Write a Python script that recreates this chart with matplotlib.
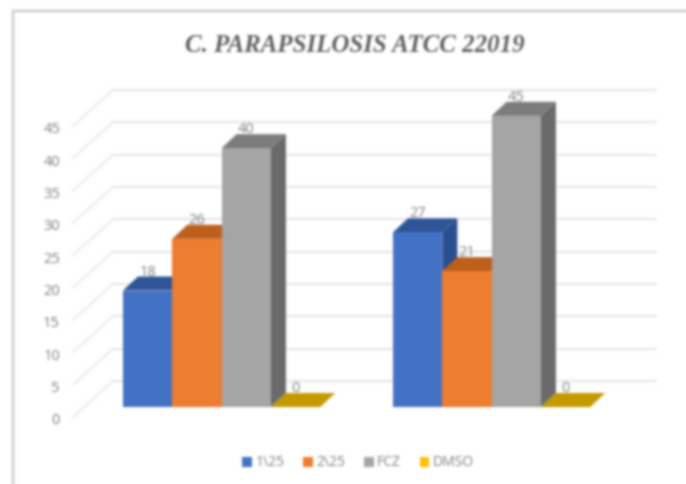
import numpy as np
import matplotlib
matplotlib.use("Agg")
import matplotlib.pyplot as plt
from matplotlib.patches import Polygon, Rectangle

# Minimum inhibitory results per isolate group
groups = ["A", "B"]
series_names = ["1\\25", "2\\25", "FCZ", "DMSO"]
series_values = [
    [18, 27],
    [26, 21],
    [40, 45],
    [0, 0],
]
tick_values = [0, 5, 10, 15, 20, 25, 30, 35, 40, 45]
title_text = "C. PARAPSILOSIS ATCC 22019"

front_colors = ["#4472C4", "#ED7D31", "#A5A5A5", "#FFC000"]
top_colors = ["#2F5597", "#BE5F1E", "#7C7C7C", "#C49A00"]
side_colors = ["#2A4F8F", "#AE5A1F", "#6A6A6A", "#A88400"]

W, H = 686, 484
PX_PER_UNIT = 6.47     # vertical pixels per data unit
BASE_Y = 407           # pixel row of the front bar base
BAR_W = 49.3           # bar width in pixels
GROUP_LEFT = [123, 393]
BAR_DX, BAR_DY = 15, 14
WALL_X0, WALL_X1, WALL_X2 = 73, 113, 656
FRONT_DROP, BACK_RISE = 10, 26


def blur(image, dpi, sigma=1.3):
    """Soft gaussian filter applied to the whole drawing."""
    r = int(3 * sigma)
    k = np.exp(-0.5 * (np.arange(-r, r + 1) / sigma) ** 2)
    k /= k.sum()
    out = np.pad(image, ((r, r), (r, r), (0, 0)), mode="edge")
    out = np.apply_along_axis(lambda v: np.convolve(v, k, mode="same"), 0, out)
    out = np.apply_along_axis(lambda v: np.convolve(v, k, mode="same"), 1, out)
    return out[r:-r, r:-r], 0, 0


fig = plt.figure(figsize=(W / 100, H / 100), dpi=100)
ax = fig.add_axes([0, 0, 1, 1])
# x runs in pixels, y in data units with 0 at the bar base
ax.set_xlim(0, W)
ax.set_ylim(-(H - BASE_Y) / PX_PER_UNIT, BASE_Y / PX_PER_UNIT)
ax.set_axis_off()
ax.add_patch(Rectangle((0, 0), 1, 1, transform=ax.transAxes, fc="white", ec="none", zorder=0))
ax.set_agg_filter(blur)

u = 1 / PX_PER_UNIT
grid_c = "#E8E8E8"

# Chart frame
frame_c = "#C9C9C9"
FRAME_X = 13
ax.plot([FRAME_X, FRAME_X], [-(H - BASE_Y) * u, (BASE_Y - 11) * u], color=frame_c, lw=1.6, zorder=1)
ax.plot([FRAME_X, W], [(BASE_Y - 11) * u] * 2, color=frame_c, lw=1.6, zorder=1)

# Back wall gridlines and their diagonal floor/side lines
for v in tick_values:
    ax.plot([WALL_X1, WALL_X2], [v + BACK_RISE * u] * 2, color=grid_c, lw=1.6, zorder=1)
    ax.plot([WALL_X0, WALL_X1], [v - FRONT_DROP * u, v + BACK_RISE * u], color=grid_c, lw=1.2, zorder=1)
    ax.text(60, v - (FRONT_DROP + 4) * u, str(v), ha="right", va="center", fontsize=10.5,
            color="#808080", family="Open Sans", zorder=5)

# Bars: front faces through bar(), then top and side faces derived from each value
bars = []
for s, (name, vals) in enumerate(zip(series_names, series_values)):
    lefts = np.array(GROUP_LEFT) + s * BAR_W
    for x, v in zip(lefts, vals):
        dx, dy = BAR_DX, BAR_DY * u
        ax.add_patch(Polygon([(x + BAR_W, 0), (x + BAR_W + dx, dy), (x + BAR_W + dx, v + dy), (x + BAR_W, v)],
                             fc=side_colors[s], ec="none", zorder=2 + s * 0.1))
        ax.add_patch(Polygon([(x, v), (x + dx, v + dy), (x + BAR_W + dx, v + dy), (x + BAR_W, v)],
                             fc=top_colors[s], ec="none", zorder=2 + s * 0.1))
    bars.append(ax.bar(lefts, vals, width=BAR_W, align="edge", color=front_colors[s],
                       label=name, zorder=2.05 + s * 0.1))
    for x, v in zip(lefts, vals):
        ax.text(x + BAR_W / 2, v + (BAR_DY + 4.5) * u, str(v), ha="center", va="center",
                fontsize=10.5, color="#808080", family="Open Sans", zorder=5)

ax.text(355, (BASE_Y - 45) * u, title_text, ha="center", va="center", fontsize=17.9,
        family="Liberation Serif", style="italic", weight="bold", color="#606060", zorder=5)

ax.legend(loc="center", bbox_to_anchor=(358 / W, 1 - 463 / H), ncol=4, frameon=False,
          labelcolor="#808080", prop={"family": "Open Sans", "size": 10},
          handlelength=0.7, handleheight=0.7, handletextpad=0.25, columnspacing=1.35)

fig.savefig("out.png", dpi=100)
